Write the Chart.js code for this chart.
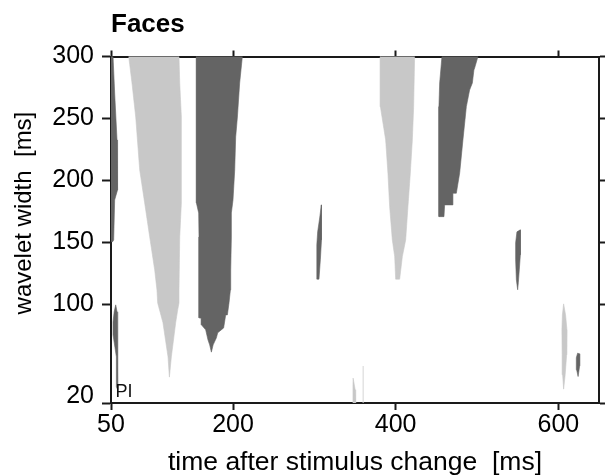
<!DOCTYPE html>
<html>
<head>
<meta charset="utf-8">
<script src="https://cdn.jsdelivr.net/npm/chart.js@4.4.1/dist/chart.umd.min.js"></script>
<style>
html,body{margin:0;padding:0;background:#ffffff;}
#wrap{width:605px;height:476px;position:relative;}
</style>
</head>
<body>
<div id="wrap"><canvas id="c" width="605" height="476"></canvas></div>
<script>
// ---- axis definitions ----
const xTicks = [50, 200, 400, 600];
const yTicks = [20, 100, 150, 200, 250, 300];
const xRange = [50, 650];
const yRange = [20, 300];

// ---- significant clusters: outlines as [time ms, wavelet width ms] ----
const clusterLight1 = [[71.8,300],[75.8,278.6],[80.4,251.1],[85.3,208.3],[91.4,181.7],[97.6,154.2],[103.7,127.6],[106.5,111.4],[107.4,100.9],[113.9,84.8],[120.1,57.3],[121.8,40.9],[124.2,57.3],[129.5,84.8],[132,95.3],[133.6,100.9],[133.6,111.4],[134.5,154.2],[136.5,181.7],[136.5,208.3],[136.5,251.1],[134.5,278.6],[133.6,300]];
const clusterDark1 = [[155,300],[155,181.7],[157.8,173.6],[158.2,154.2],[158.2,88.8],[161.1,88.4],[161.1,83.2],[166.4,79.1],[169.2,71.1],[171.3,67],[173.4,61.1],[175.6,67],[179.6,72.7],[181.2,76.7],[188.5,80.7],[191,91.2],[193.1,91.2],[195.1,100.9],[196.8,111.4],[197.2,127.6],[198,154.2],[198,173.6],[200,184.1],[202.1,208.3],[203.3,235],[205.4,251.1],[208.2,278.6],[211.5,300]];
const clusterDarkEdgeTop = [[48,300],[52.5,300],[54.5,270.5],[57.4,232.6],[58.2,208.3],[57.9,192.2],[54.5,184.1],[53.3,151.8],[52.1,150.4],[48,150.4]];
const clusterDarkEdgeLow = [[55.8,99.3],[57.4,93.7],[58.6,79.1],[58.6,57.3],[58.2,33.1],[57.4,30.7],[56.6,33.1],[56.6,57.3],[52.5,75.1],[52.5,85.6],[53.9,93.7]];
const clusterLight2 = [[381.2,300],[381.2,259.5],[387.7,232.6],[390.5,205.7],[392.6,178.7],[395.9,151.8],[398.8,138.3],[400,120.1],[404.9,120.1],[408.2,138.3],[412.3,151.8],[415.1,178.7],[418,205.7],[420.5,232.6],[422.1,259.5],[423.3,300]];
const clusterDark2 = [[456.9,300],[454.1,278.6],[453.2,259.5],[453.2,170.6],[459.4,170.6],[460.2,180.1],[470.4,180.1],[470.4,189.5],[474.6,189.5],[478.7,205.9],[482.7,232.6],[486.9,259.5],[490.9,272.9],[494.3,278.6],[496.2,289.1],[497.1,290.7],[501.2,300]];
const clusterDark3 = [[308.6,180.1],[309,168],[308.6,151.8],[307.4,135.7],[305.7,120.1],[303.2,120.1],[303.2,134.1],[302.9,147.8],[304.1,158.3],[306.6,169.6]];
const clusterDark4 = [[549.1,158.3],[553.3,159.9],[553.3,139.7],[552,127.6],[550.8,117.1],[550,111.5],[548.4,119.6],[547.5,135.7],[547.5,149.4]];
const clusterLight3 = [[606.5,100.1],[608.9,91.2],[610.6,79.1],[610.2,58.9],[608.4,42.8],[606.5,31.2],[605.3,42.8],[604.7,58.9],[604.4,79.1],[605,91.2]];
const clusterDark5 = [[623.7,60.3],[626.2,59.7],[626.2,50],[624.3,41.4],[622.5,46.8],[622.1,56.5]];
const clusterLight4 = [[347.7,40.1],[350.2,30.7],[350.8,18],[347.5,18],[347.5,34.7]];
const clusterLight5 = [[359.4,50],[360.6,50],[360.6,18],[359.4,18]];

const LIGHT = '#c8c8c8';
const DARK = '#646464';
const AXIS = '#1a1a1a';
const FONT = '"Liberation Sans", Arial, Helvetica, sans-serif';

function poly(pts, color, w) {
  const data = pts.map(p => ({x: p[0], y: p[1]}));
  data.push({x: pts[0][0], y: pts[0][1]});
  return {
    data: data,
    showLine: true,
    fill: 'shape',
    backgroundColor: color,
    borderColor: color,
    borderWidth: w === undefined ? 0.6 : w,
    pointRadius: 0,
    pointHoverRadius: 0,
    tension: 0
  };
}

const piLabel = {
  id: 'piLabel',
  afterDatasetsDraw(chart) {
    const {ctx, chartArea} = chart;
    ctx.save();
    ctx.font = '18px ' + FONT;
    ctx.fillStyle = '#111';
    ctx.textAlign = 'left';
    ctx.textBaseline = 'alphabetic';
    ctx.fillText('PI', chartArea.left + 4.5, chartArea.bottom - 6.3);
    ctx.restore();
  }
};

const setTicks = vals => scale => { scale.ticks = vals.map(v => ({value: v})); };

const datasets = [
  poly(clusterLight1, LIGHT),
  poly(clusterDark1, DARK),
  poly(clusterDarkEdgeTop, DARK),
  poly(clusterDarkEdgeLow, DARK),
  poly(clusterLight2, LIGHT),
  poly(clusterDark2, DARK),
  poly(clusterDark3, DARK),
  poly(clusterDark4, DARK),
  poly(clusterLight3, LIGHT),
  poly(clusterDark5, DARK),
  poly(clusterLight4, LIGHT),
  poly(clusterLight5, '#d4d4d4', 0)
];

new Chart(document.getElementById('c'), {
  type: 'scatter',
  data: {datasets: datasets},
  plugins: [piLabel],
  options: {
    responsive: false,
    animation: false,
    devicePixelRatio: 1,
    layout: {padding: 0},
    plugins: {
      legend: {display: false},
      tooltip: {enabled: false},
      title: {
        display: true,
        text: 'Faces',
        align: 'start',
        fullSize: false,
        color: '#000',
        font: {family: FONT, size: 26, weight: 'bold', lineHeight: 1.2},
        padding: {top: 9, bottom: 0}
      }
    },
    scales: {
      x: {
        type: 'linear', position: 'bottom',
        min: xRange[0], max: xRange[1],
        afterBuildTicks: setTicks(xTicks),
        afterFit: s => { s.height = 73; },
        ticks: {color: '#000', font: {family: FONT, size: 25}, padding: 0, maxRotation: 0, autoSkip: false},
        grid: {drawOnChartArea: false, drawTicks: true, tickLength: 7, tickWidth: 2, tickColor: AXIS},
        border: {display: true, width: 2, color: AXIS},
        title: {display: true, text: 'time after stimulus change  [ms]', color: '#000',
                font: {family: FONT, size: 26.5, lineHeight: 1}, padding: {top: 0, bottom: 0.5}}
      },
      x2: {
        type: 'linear', position: 'top',
        min: xRange[0], max: xRange[1],
        afterBuildTicks: setTicks(xTicks),
        afterFit: s => { s.height = 16.3; },
        ticks: {display: false},
        grid: {drawOnChartArea: false, drawTicks: true, tickLength: 6, tickWidth: 2, tickColor: AXIS},
        border: {display: true, width: 2, color: AXIS}
      },
      y: {
        type: 'linear', position: 'left',
        min: yRange[0], max: yRange[1],
        afterBuildTicks: setTicks(yTicks),
        afterFit: s => { s.width = 111; },
        ticks: {
          color: '#000', padding: 8, autoSkip: false,
          font: c => (c.tick && c.tick.value === 20)
            ? {family: FONT, size: 25, lineHeight: '14px'}
            : {family: FONT, size: 25},
          callback: v => v === 20 ? ['20', ''] : String(v)
        },
        grid: {drawOnChartArea: false, drawTicks: true, tickLength: 9, tickWidth: 2, tickColor: AXIS},
        border: {display: true, width: 2, color: AXIS},
        title: {display: true, text: '     wavelet width  [ms]', color: '#000',
                font: {family: FONT, size: 24, lineHeight: 1}, padding: {top: 12, bottom: 0}}
      },
      y2: {
        type: 'linear', position: 'right',
        min: yRange[0], max: yRange[1],
        afterBuildTicks: setTicks(yTicks),
        afterFit: s => { s.width = 6; },
        ticks: {display: false},
        grid: {drawOnChartArea: false, drawTicks: true, tickLength: 6, tickWidth: 2, tickColor: AXIS},
        border: {display: true, width: 2, color: AXIS}
      }
    }
  }
});
</script>
</body>
</html>
